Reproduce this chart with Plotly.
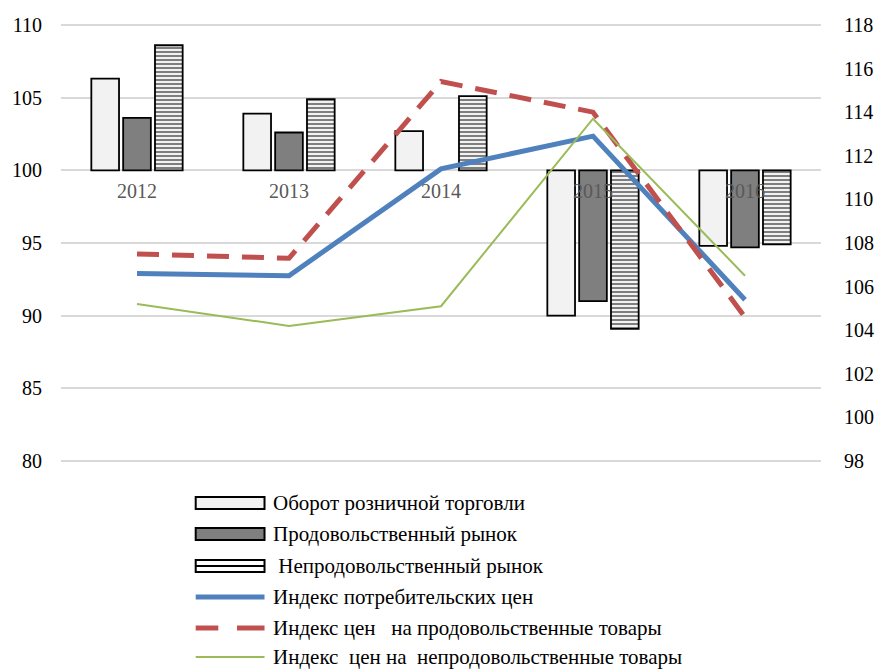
import plotly.graph_objects as go

# Годы
years = ["2012", "2013", "2014", "2015", "2016"]

# Индексы физического объёма (левая ось, % к предыдущему году)
retail_turnover = [106.3, 103.9, 102.7, 90.0, 94.8]
food_market = [103.6, 102.6, None, 91.0, 94.7]
nonfood_market = [108.6, 104.9, 105.1, 89.1, 94.9]

# Индексы цен (правая ось, %)
cpi = [106.6, 106.5, 111.4, 112.9, 105.4]
food_prices = [107.5, 107.3, 115.4, 114.0, 104.6]
nonfood_prices = [105.2, 104.2, 105.1, 113.7, 106.5]

bar_names = ["Оборот розничной торговли", "Продовольственный рынок", "Непродовольственный рынок"]
line_names = ["Индекс потребительских цен",
              "Индекс цен\u00a0\u00a0 на продовольственные товары",
              "Индекс\u00a0 цен на\u00a0 непродовольственные товары"]

BASE = 100
W, H = 886, 669
ML, MR, MT, MB = 60, 53, 22, 205
SERIF = "Liberation Serif"

# Левая ось 80–110, правая 98–118; небольшой запас, чтобы крайние линии сетки были видны
PAD = 0.2
LEFT_RANGE = [80 - PAD, 110 + PAD]
RIGHT_RANGE = [98 - PAD * 2 / 3, 118 + PAD * 2 / 3]


def rel(values):
    return [None if v is None else v - BASE for v in values]


fig = go.Figure()

fig.add_trace(go.Bar(
    x=years, y=rel(retail_turnover), base=BASE, name=bar_names[0],
    marker=dict(color="#F2F2F2", line=dict(color="black", width=1.8)),
    showlegend=False))
fig.add_trace(go.Bar(
    x=years, y=rel(food_market), base=BASE, name=bar_names[1],
    marker=dict(color="#7F7F7F", line=dict(color="black", width=1.8)),
    showlegend=False))
fig.add_trace(go.Bar(
    x=years, y=rel(nonfood_market), base=BASE, name=bar_names[2],
    marker=dict(color="white", line=dict(color="black", width=1.8),
                pattern=dict(shape="-", fgcolor="black", bgcolor="white",
                             size=4, solidity=0.55, fillmode="overlay")),
    showlegend=False))

fig.add_trace(go.Scatter(
    x=years, y=cpi, name=line_names[0], yaxis="y2", mode="lines",
    line=dict(color="#4F81BD", width=5), showlegend=False))
fig.add_trace(go.Scatter(
    x=years, y=food_prices, name=line_names[1], yaxis="y2", mode="lines",
    line=dict(color="#C0504D", width=5, dash="22px,13px"), showlegend=False))
fig.add_trace(go.Scatter(
    x=years, y=nonfood_prices, name=line_names[2], yaxis="y2", mode="lines",
    line=dict(color="#9BBB59", width=2), showlegend=False))

# Подписи годов на линии 100
for i, yr in enumerate(years):
    fig.add_annotation(x=i, y=BASE, xref="x", yref="y", text=yr, showarrow=False,
                       yanchor="top", yshift=-8,
                       font=dict(family=SERIF, size=20, color="#595959"))

# Легенда под графиком
PW, PH = W - ML - MR, H - MT - MB


def px_x(px):
    return (px - ML) / PW


def px_y(py):
    return (H - MB - py) / PH


rows = [503, 534, 566, 597, 628, 657]
sx0, sx1, tx = 197, 267, 275
shapes = []
fills = ["#F2F2F2", "#7F7F7F", "white"]
for i in range(3):
    cy = rows[i]
    shapes.append(dict(type="rect", xref="paper", yref="paper",
                       x0=px_x(sx0), x1=px_x(sx1), y0=px_y(cy - 6), y1=px_y(cy + 6),
                       fillcolor=fills[i], line=dict(color="black", width=2)))
shapes.append(dict(type="line", xref="paper", yref="paper",
                   x0=px_x(sx0), x1=px_x(sx1), y0=px_y(rows[2]), y1=px_y(rows[2]),
                   line=dict(color="black", width=2)))
shapes.append(dict(type="line", xref="paper", yref="paper",
                   x0=px_x(sx0), x1=px_x(sx1), y0=px_y(rows[3]), y1=px_y(rows[3]),
                   line=dict(color="#4F81BD", width=5)))
for a, b in [(sx0, sx0 + 23), (sx0 + 42, sx1)]:
    shapes.append(dict(type="line", xref="paper", yref="paper",
                       x0=px_x(a), x1=px_x(b), y0=px_y(rows[4]), y1=px_y(rows[4]),
                       line=dict(color="#C0504D", width=5)))
shapes.append(dict(type="line", xref="paper", yref="paper",
                   x0=px_x(sx0), x1=px_x(sx1), y0=px_y(rows[5]), y1=px_y(rows[5]),
                   line=dict(color="#9BBB59", width=2)))

labels = bar_names[:2] + ["\u00a0" + bar_names[2]] + line_names
for cy, txt in zip(rows, labels):
    fig.add_annotation(x=px_x(tx), y=px_y(cy), xref="paper", yref="paper", text=txt,
                       showarrow=False, xanchor="left", yanchor="middle", borderpad=0,
                       font=dict(family=SERIF, size=21, color="black"))

fig.update_layout(
    width=W, height=H,
    margin=dict(l=ML, r=MR, t=MT, b=MB),
    paper_bgcolor="white", plot_bgcolor="white",
    barmode="group", bargap=0.372, bargroupgap=0.13,
    showlegend=False,
    shapes=shapes,
    font=dict(family=SERIF, size=20, color="black"),
    xaxis=dict(type="category", range=[-0.5, len(years) - 0.5], showticklabels=False,
               showgrid=False, zeroline=False, showline=False, ticks=""),
    yaxis=dict(range=LEFT_RANGE, tickvals=[80, 85, 90, 95, 100, 105, 110],
               showgrid=True, gridcolor="#D9D9D9", gridwidth=1.5,
               zeroline=False, showline=False, ticks="", ticklabelstandoff=18,
               tickfont=dict(family=SERIF, size=20, color="black")),
    yaxis2=dict(range=RIGHT_RANGE, tickvals=list(range(98, 119, 2)), overlaying="y",
                side="right", showgrid=False,
                zeroline=False, showline=False, ticks="", ticklabelstandoff=22,
                tickfont=dict(family=SERIF, size=20, color="black")),
)

fig.write_html("out.html")
